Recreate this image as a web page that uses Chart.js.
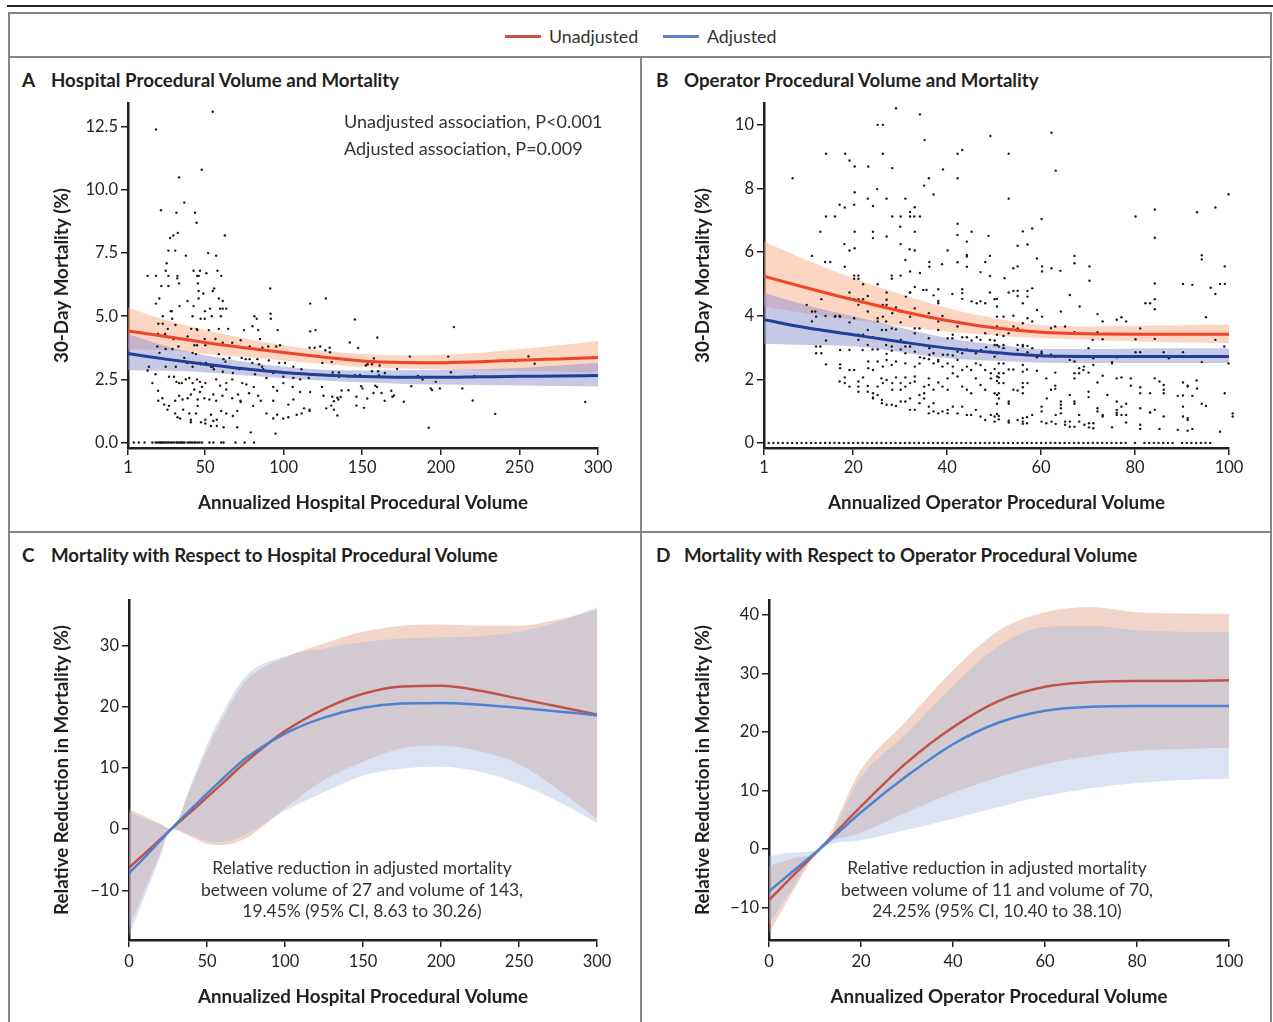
<!DOCTYPE html>
<html>
<head>
<meta charset="utf-8">
<script src="https://cdn.jsdelivr.net/npm/chart.js@4.4.1/dist/chart.umd.min.js"></script>
<style>
  body { margin: 0; background: #fff; font-family: Lato, 'Open Sans', sans-serif; color: #231f20; }
  #page { position: relative; width: 1273px; height: 1022px; overflow: hidden; }
  .rule { position: absolute; background: #231f20; }
  .frame { position: absolute; background: #858585; }
  .t { position: absolute; white-space: nowrap; line-height: 20px; }
  .letter { font-size: 19px; font-weight: 700; }
  .ptitle { font-size: 18.7px; font-weight: 700; }
  .note { font-size: 18px; color: #333; }
  .cnote { font-size: 17.4px; color: #333; text-align: center; line-height: 21.5px; }
  .leg { font-size: 17.8px; color: #333; }
  .swatch { position: absolute; height: 3px; }
  .holder { position: absolute; }
</style>
</head>
<body>
<div id="page">
  <div class="rule" style="left:7px;top:5px;width:1266px;height:2px"></div>
  <div class="frame" style="left:8px;top:12px;width:1264px;height:2px"></div>
  <div class="frame" style="left:8px;top:12px;width:2px;height:1010px"></div>
  <div class="frame" style="left:1270px;top:12px;width:2px;height:1010px"></div>
  <div class="frame" style="left:8px;top:56px;width:1264px;height:2px"></div>
  <div class="frame" style="left:640px;top:56px;width:2px;height:966px"></div>
  <div class="frame" style="left:8px;top:531px;width:1264px;height:2px"></div>

  <!-- legend -->
  <div class="swatch" style="left:505px;top:35px;width:36px;background:#c8503c"></div>
  <div class="t leg" style="left:549px;top:26px">Unadjusted</div>
  <div class="swatch" style="left:663px;top:35px;width:36px;background:#5a84c6"></div>
  <div class="t leg" style="left:707px;top:26px">Adjusted</div>

  <!-- panel titles -->
  <div class="t letter" style="left:22px;top:70px">A</div>
  <div class="t ptitle" style="left:51px;top:70px">Hospital Procedural Volume and Mortality</div>
  <div class="t letter" style="left:656px;top:70px">B</div>
  <div class="t ptitle" style="left:684px;top:70px">Operator Procedural Volume and Mortality</div>
  <div class="t letter" style="left:22px;top:545px">C</div>
  <div class="t ptitle" style="left:51px;top:545px">Mortality with Respect to Hospital Procedural Volume</div>
  <div class="t letter" style="left:656px;top:545px">D</div>
  <div class="t ptitle" style="left:684px;top:545px">Mortality with Respect to Operator Procedural Volume</div>

  <div class="holder" style="left:10px;top:90px"><canvas id="chartA" width="630" height="435"></canvas></div>
  <div class="holder" style="left:650px;top:90px"><canvas id="chartB" width="615" height="435"></canvas></div>
  <div class="holder" style="left:10px;top:570px"><canvas id="chartC" width="630" height="445"></canvas></div>
  <div class="holder" style="left:650px;top:570px"><canvas id="chartD" width="615" height="445"></canvas></div>

  <div class="t note" style="left:344px;top:111px">Unadjusted association, P&lt;0.001</div>
  <div class="t note" style="left:344px;top:138px">Adjusted association, P=0.009</div>

  <div class="t cnote" style="left:162px;top:857px;width:400px">Relative reduction in adjusted mortality<br>between volume of 27 and volume of 143,<br>19.45% (95% CI, 8.63 to 30.26)</div>
  <div class="t cnote" style="left:797px;top:857px;width:400px">Relative reduction in adjusted mortality<br>between volume of 11 and volume of 70,<br>24.25% (95% CI, 10.40 to 38.10)</div>
</div>

<script>
// ---------- Panel A: hospital volume vs 30-day mortality ----------
const aFitX = [1, 25, 50, 75, 100, 125, 150, 175, 200, 225, 250, 275, 300];
const aUnadj   = [4.42, 4.20, 3.96, 3.75, 3.56, 3.38, 3.23, 3.17, 3.16, 3.20, 3.26, 3.31, 3.36];
const aUnadjHi = [5.35, 4.85, 4.45, 4.12, 3.85, 3.63, 3.50, 3.45, 3.47, 3.55, 3.70, 3.85, 4.02];
const aUnadjLo = [3.68, 3.65, 3.50, 3.38, 3.25, 3.11, 2.98, 2.93, 2.90, 2.87, 2.84, 2.81, 2.77];
const aAdj     = [3.52, 3.30, 3.10, 2.92, 2.77, 2.67, 2.61, 2.58, 2.58, 2.60, 2.62, 2.63, 2.65];
const aAdjHi   = [4.30, 3.82, 3.45, 3.20, 3.00, 2.88, 2.85, 2.86, 2.88, 2.90, 2.95, 3.05, 3.16];
const aAdjLo   = [2.86, 2.84, 2.78, 2.66, 2.54, 2.45, 2.38, 2.33, 2.30, 2.28, 2.26, 2.24, 2.22];
const aXTicks = [1, 50, 100, 150, 200, 250, 300];
const aYTicks = [0, 2.5, 5, 7.5, 10, 12.5];

const aPoints = [
  [54.9,13.1],[18.8,12.4],[47.9,10.8],[33.5,10.5],[36.8,9.5],[22,9.2],[31.8,9.1],[43.6,9.1],[44.7,8.7],[62.6,8.2],
  [32.7,8.3],[29.9,8.2],[27.8,8.1],[26.7,7.6],[31,7.6],[37.8,7.4],[52,7.5],[57.1,7.4],[25.6,7.1],[25,6.8],
  [42.7,6.8],[46.8,6.8],[13.5,6.6],[18.8,6.6],[32.5,6.6],[26.7,6.6],[45,6.6],[46,6.6],[50.9,6.7],[57.9,6.8],
  [60.3,6.6],[32.3,6.5],[22.2,6.2],[26.7,6.2],[33.5,6.3],[45.5,6.3],[55.8,6.1],[54.9,6.0],[48.9,5.9],[45.9,6.0],
  [91.5,6.1],[20.9,5.7],[18.8,5.5],[38.9,5.6],[45.9,5.7],[58.8,5.7],[61.3,5.6],[116.9,5.5],[126.9,5.7],
  [28.2,5.2],[28.8,5.2],[33.8,5.4],[42.7,5.4],[50,5.2],[53.2,5.3],[59.6,5.3],[61.3,5.3],[63.5,5.3],
  [23.1,5.0],[29.1,4.9],[42.1,5.0],[47.2,4.9],[49.8,4.9],[54.3,5.0],[60.1,5.0],[91.7,5.1],[91.9,4.9],[81.4,5.0],[82.9,4.9],
  [20.3,4.7],[23.1,4.7],[26.3,4.5],[31.2,4.65],[41.2,4.5],[44.7,4.5],[45.1,4.45],[52.4,4.45],[58.8,4.5],[64.7,4.5],
  [74.8,4.45],[80.1,4.6],[83.8,4.45],[85,4.1],[96.2,4.45],[116.9,4.4],[120.3,4.45],
  [20.1,4.3],[24.6,4.3],[29.9,4.1],[33.5,4.1],[38.9,4.2],[43.2,3.85],[44.9,3.85],[49.8,4.1],[50.2,3.85],[56.6,4.1],
  [61.3,3.95],[67.3,3.95],[72.7,4.05],[78.4,3.8],[86.5,3.75],[90.2,3.8],[95.3,3.8],[97.7,3.85],[116.5,3.75],[119.7,3.75],
  [123.3,3.8],[126.5,3.65],
  [19.7,3.8],[21,3.55],[25,3.7],[29.3,3.7],[33.1,3.8],[36.8,3.35],[42.1,3.55],[44.2,3.5],[46.8,3.15],[50.6,3.15],
  [54.9,3.0],[58.8,3.5],[61.8,3.3],[63,3.2],[65.6,3.35],[73.3,3.35],[75.9,3.3],[78.4,3.3],[80.1,3.15],[83.3,3.3],
  [84.4,3.1],[86.3,3.0],[90.6,3.25],[97.2,3.15],[100.9,3.15],[106.2,3.0],[111.3,2.9],[124.6,3.15],
  [14.3,3.0],[13.5,2.85],[25,3.0],[31.4,3.0],[38.5,3.15],[42.1,3.0],[47.4,3.1],[53.8,3.0],[55.6,2.9],[61.3,2.8],
  [67.7,2.75],[72,2.9],[78.4,2.9],[81.8,2.7],[87,2.9],[93.4,2.75],[99.8,2.6],[106.2,2.55],[110.5,2.5],[116,2.55],
  [18.6,2.7],[16.5,2.35],[27.1,2.6],[30.3,2.6],[31.8,2.4],[33.5,2.35],[35.3,2.35],[37.8,2.5],[40,2.55],[42.1,2.35],
  [44.9,2.5],[46.8,2.4],[48.1,2.2],[50.2,2.35],[57.1,2.5],[59.6,2.25],[63.5,2.35],[67.3,2.5],[73.7,2.35],[76.3,2.3],
  [81,2.2],[89.1,2.55],[93.4,2.2],[99.8,2.35],[105.8,2.2],[110.5,2.0],[116.9,2.0],[124.4,2.2],
  [20.1,2.05],[22.9,1.75],[20.3,1.65],[24,1.5],[26.1,1.3],[27.1,1.45],[31,1.65],[33.5,1.85],[35.7,1.7],[38.9,1.75],
  [41,1.9],[43.2,2.1],[45.3,1.7],[46.8,2.0],[49.6,1.75],[52.8,1.7],[55.3,1.9],[57.1,1.65],[61.1,1.85],[63.5,2.1],
  [67.3,1.75],[71,1.9],[72.5,1.65],[78,1.95],[83.8,1.85],[85.5,1.65],[93.4,1.65],[95.9,2.05],[103,1.5],[106.2,1.7],
  [113,1.35],[116.5,1.3],[127.1,1.35],[125.4,1.85],
  [31,1.15],[32.5,1.0],[34.2,0.95],[36.1,1.3],[40,1.15],[41,0.9],[44.2,1.15],[45.3,1.45],[50.2,0.9],[53.8,1.1],
  [55.3,0.85],[57.5,0.9],[60.3,1.25],[63.5,1.15],[67.7,1.05],[70.5,1.25],[72.7,1.6],[80.6,1.45],[89.1,1.15],[93.4,0.95],
  [95.9,1.1],[99.8,0.95],[103,1.0],[108.3,1.1],[111.5,1.15],[116.5,1.25],
  [41,0.8],[47.4,0.8],[50.2,0.75],[53.8,0.65],[57.5,0.65],[61.8,0.6],[70.5,0.6],[79.1,0.4],[94.9,0.35],
  [145.3,4.87],[208.3,4.57],[142.1,3.96],[159.6,4.16],[147.4,3.74],[129.3,3.75],[129.5,3.57],[130.6,3.19],[157.4,3.33],
  [153.4,3.1],[152.3,3.05],[156.2,3.1],[161.1,3.05],[172.2,2.91],[180.3,3.4],[204.7,3.4],[247.4,3.22],[255.8,3.41],
  [259.7,3.12],[131.2,2.77],[135.2,2.77],[141.2,2.62],[145.3,2.66],[148.6,2.67],[156.2,2.82],[160.1,2.82],[164.4,2.75],
  [160.7,2.66],[185.4,2.63],[188.4,2.49],[196.8,2.4],[206.4,2.78],[221.3,2.63],[233.5,2.6],[135.2,2.6],[149.3,2.23],
  [150.2,2.14],[158.3,2.25],[159.4,2.2],[181.2,2.23],[193.6,2.14],[194.4,2.08],[199.4,2.14],[213.7,2.14],[136.9,2.06],
  [141.2,2.07],[146.3,1.81],[153.2,1.74],[157.2,1.96],[162.3,1.96],[164.3,1.65],[168.5,2.05],[169.2,1.81],[170.2,1.86],
  [176.4,1.61],[146.3,1.46],[151.1,1.37],[220.3,1.66],[234.6,1.13],[192.3,0.58],[291.9,1.6],
  [130.9,1.81],[134.2,1.77],[136.3,1.8],[134.8,1.7],[132,1.63],[130.3,1.46],[132,1.3],[134.2,1.07]
];
const aZeroX = [4.7, 7.9, 11.5, 16.5, 18.6, 19.5, 20.7, 21.5, 22.2, 23, 24, 25, 26.1, 27, 28.2, 29, 30.3, 31.8,
  32.5, 33.5, 34.5, 35.3, 36, 37, 38.9, 40, 41, 42, 43.2, 44, 45.3, 46.5, 48.1, 52.8, 55.3, 60.3, 61.8, 69.4, 75.2, 81.2];

// ---------- Panel B: operator volume vs 30-day mortality ----------
const bFitX = [1, 10, 20, 30, 40, 50, 60, 70, 80, 90, 100];
const bUnadj   = [5.24, 4.88, 4.50, 4.15, 3.85, 3.62, 3.48, 3.43, 3.42, 3.42, 3.42];
const bUnadjHi = [6.33, 5.75, 5.18, 4.68, 4.24, 3.92, 3.70, 3.66, 3.68, 3.70, 3.72];
const bUnadjLo = [4.29, 4.07, 3.87, 3.67, 3.50, 3.38, 3.30, 3.24, 3.19, 3.16, 3.14];
const bAdj     = [3.87, 3.62, 3.40, 3.18, 2.98, 2.84, 2.74, 2.72, 2.72, 2.72, 2.72];
const bAdjHi   = [4.71, 4.33, 3.98, 3.63, 3.30, 3.10, 2.95, 2.95, 2.97, 2.98, 2.98];
const bAdjLo   = [3.12, 3.08, 3.04, 2.86, 2.66, 2.58, 2.52, 2.51, 2.51, 2.51, 2.51];
const bXTicks = [1, 20, 40, 60, 80, 100];
const bYTicks = [0, 2, 4, 6, 8, 10];

const bPoints = [
  [29.1,10.52],[34.2,10.33],[25.2,10.0],[26.3,10.0],[49.2,9.65],[35.2,9.52],[43.2,9.21],[42.2,9.09],[14.2,9.09],[18.3,9.09],
  [26.3,9.09],[19.2,8.88],[20.3,8.69],[23.2,8.69],[28.3,8.64],[7.1,8.32],[39.1,8.6],[36.1,8.32],[42.2,8.32],[35.1,8.09],
  [37.1,7.81],[20.3,7.88],[25.1,7.98],[23.1,7.68],[27.1,7.68],[31.1,7.68],[17.1,7.49],[18.2,7.4],[20.2,7.49],[24.2,7.45],
  [33.1,7.41],[32.1,7.26],[33.0,7.12],[14.2,7.12],[16.1,7.12],[28.3,7.12],[30.1,7.12],[32.1,7.12],[34.2,7.12],[42.2,6.89],
  [30.0,6.8],[42.2,6.54],[45.2,6.64],[48.8,6.51],[13.0,6.64],[20.3,6.64],[24.2,6.64],[24.2,6.44],[27.1,6.49],[33.1,6.64],
  [44.2,6.33],[18.1,6.25],[19.2,6.05],[20.3,6.12],[30.1,6.25],[32.0,6.09],[33.1,6.05],[40.1,6.05],[44.2,5.91],[44.2,5.86],
  [49.1,5.88],[11.2,5.88],[31.1,5.75],[14.0,5.69],[15.1,5.69],[18.2,5.54],[36.2,5.69],[36.2,5.54],[38.9,5.62],[42.2,5.68],
  [44.2,5.54],[48.1,5.69],[47.1,5.37],[49.1,5.25],[34.2,5.34],[32.1,5.39],[20.2,5.26],[21.1,5.26],[20.2,5.16],[21.1,5.16],
  [28.2,5.26],[30.1,5.26],[28.2,5.16],[22.1,4.99],[25.2,4.99],[33.1,4.9],[32.1,4.73],
  [10.1,4.34],[11.2,4.13],[11.9,4.13],[11.2,3.82],[12.1,3.97],[13.2,4.52],[14.1,3.99],[16.2,3.99],[17.1,3.99],
  [19.2,4.73],[19.2,4.55],[20.2,4.52],[21.1,4.52],[21.1,4.34],[22.1,4.52],[23.1,4.62],[23.1,4.13],[25.2,3.92],[26.3,3.97],
  [27.1,4.73],[27.1,4.5],[26.3,4.34],[27.1,4.34],[28.3,4.08],[29.1,4.26],[30.1,4.13],[31.2,4.6],[32.1,4.73],[33.1,4.23],
  [34.9,4.81],[35.6,4.81],[37.1,4.64],[38.1,4.46],[38.1,4.39],[38.1,4.83],[41.1,4.68],[43.2,4.83],[43.2,4.71],[43.2,4.53],
  [45.2,4.45],[46.3,4.39],[47.1,4.45],[48.1,4.39],[49.1,4.73],[50.1,4.52],
  [16.1,3.97],[17.2,3.97],[19.2,3.79],[20.2,3.92],[21.1,3.40],[21.1,3.24],[22.1,3.40],[23.1,3.55],[24.1,2.94],[25.2,3.82],
  [26.1,3.55],[27,3.82],[27,3.55],[27,3.08],[28.2,3.6],[28.2,3.03],[29.1,3.57],[30.1,3.79],[30.1,3.24],[31.1,3.03],
  [32.1,3.97],[33.1,3.6],[33.1,3.45],[34.1,3.6],[35.1,3.08],[36.1,4.08],[36.1,3.29],[37.1,3.03],[38.1,3.82],[38.1,3.55],
  [39.0,3.99],[40.1,3.29],[41.1,3.29],[41.2,3.4],[42.2,3.66],[43.2,3.32],[44.2,3.32],[45.2,3.22],[46.3,3.32],[47.1,3.24],
  [48.1,3.45],[49.1,3.24],[50.1,3.22],[50.1,3.08],
  [12.1,3.03],[13,3.03],[12.1,2.82],[13.2,2.82],[14.2,3.22],[17.2,2.92],[19.2,2.92],[22,2.92],[23.1,3.08],[24.2,3.32],
  [25.2,2.94],[27.1,2.8],[28.2,2.9],[30.1,2.94],[31.1,2.82],[32.1,3.03],[33.1,2.87],[34.2,2.69],[35.1,2.66],[36.2,2.98],
  [36.2,2.77],[37.1,2.82],[38.1,2.61],[39.1,2.77],[40.1,2.77],[41.2,2.75],[42.2,2.87],[43.2,2.82],[44.2,2.94],[46.1,2.82],
  [47.2,2.92],[48.3,3.01],[49.2,2.87],[50.1,2.71],
  [14.2,2.47],[17.2,2.47],[17.2,2.35],[19.2,2.29],[20.2,2.29],[23.2,2.56],[23.2,2.35],[24.2,2.29],[25.2,2.56],[26.3,2.4],
  [27.1,2.61],[28.2,2.45],[29.1,2.56],[31.1,2.5],[33.1,2.4],[34.1,2.5],[36.1,2.63],[37.1,2.5],[38.1,2.56],[39.0,2.4],
  [40.1,2.5],[41.2,2.4],[42.2,2.61],[43.2,2.29],[44.2,2.4],[45.1,2.29],[46.1,2.5],[47.1,2.45],[48.1,2.29],[49.3,2.19],[50.1,2.32],
  [17.1,1.93],[18.2,2.06],[18.2,1.88],[19.2,1.77],[21.1,1.93],[21.1,1.77],[21.1,1.61],[22.1,2.06],[23.1,1.79],[23.1,1.61],
  [24.2,1.56],[24.2,1.43],[25.2,1.77],[26,2.03],[26.3,1.88],[27.1,1.98],[28.3,1.88],[28.3,1.67],[29.1,2.06],[30.1,1.88],
  [30.1,1.67],[31.1,2.06],[31.1,1.77],[32.1,1.88],[33.1,2.09],[33.1,1.93],[34.1,1.51],[35.1,1.77],[35.1,1.56],[36.1,2.03],
  [36.1,1.82],[37.1,1.67],[38.1,1.9],[39,1.77],[40.1,2.03],[40.1,1.67],[41.2,2.19],[42.2,2.09],[43.2,1.77],[44.2,1.67],
  [45.1,1.56],[46.1,2.03],[47.1,1.82],[48.1,1.67],[49.3,2.03],[50.1,1.56],
  [24.2,1.4],[25.2,1.51],[26.1,1.35],[26.1,1.25],[27.1,1.2],[28.2,1.2],[29.1,1.16],[30.1,1.3],[31.1,1.3],[32.1,1.4],
  [32.1,1.04],[33.1,1.04],[34.1,1.25],[35.1,1.4],[36.1,1.14],[36.1,0.93],[37.1,1.25],[37.1,0.99],[38.1,0.93],[39,0.99],
  [40.1,0.93],[40.1,1.04],[41.2,1.14],[42.2,0.93],[43.2,1.14],[44.2,0.88],[45.1,0.88],[46.1,1.04],[47.1,0.83],[48.1,0.72],
  [49.3,0.88],[50.1,0.83],[50.1,0.67],
  [62.2,9.75],[53.1,9.09],[63.1,8.56],[53.1,7.68],[99.9,7.82],[97.1,7.4],[93.2,7.25],[84.2,7.34],[80.1,7.12],[84.2,6.45],
  [60.1,7.04],[58.1,6.74],[56.1,6.65],[55,6.2],[57.1,6.24],[94.2,5.9],[94.2,5.77],[67.1,5.88],[67.1,5.65],[59.1,5.8],
  [60.2,5.55],[60.2,5.39],[62.2,5.49],[64.1,5.41],[54.1,5.49],[55,5.55],[70.3,5.55],[70.3,5.1],[99.1,5.55],[52.2,5.18],
  [84.2,5.01],[90.2,5.0],[92.2,4.97],[96.1,4.88],[97.1,4.68],[98.1,5.0],[99.1,5.0],
  [53.1,4.73],[54.1,4.78],[55,4.78],[55,4.62],[57.1,4.78],[57.1,4.6],[58.1,4.86],[56.1,4.39],[66.1,4.65],[82.2,4.39],
  [83.2,4.39],[84.2,4.52],[84.2,4.2],[68.2,4.29],[50.6,4.53],[50.6,4.29],[64.2,4.13],[95.1,3.95],
  [50.6,3.97],[52,3.97],[54.1,4.0],[57.1,3.92],[59.1,4.18],[60.2,3.97],[58.1,3.82],[77.1,3.95],[76.1,3.87],[78.1,3.82],
  [72,4.05],[73.1,3.82],[63,3.66],[65.1,3.66],[62.1,3.61],[56.1,3.76],[54.1,3.66],[50.6,3.66],[52,3.36],[53.1,3.45],
  [50.6,3.4],[55,3.6],[81.1,3.6],[80.1,3.26],[84.2,3.27],[72,3.48],[71,3.24],[73.1,3.26],[67.1,3.48],[97.1,3.24],
  [50.6,3.08],[51,3.03],[52,3.08],[52,2.98],[55,3.08],[55,2.92],[56.1,3.08],[56.1,3.03],[57.1,3.05],[57.1,2.85],
  [58.1,2.98],[60.1,2.87],[60.1,2.82],[59.1,2.69],[62.1,2.77],[63,2.71],[66.1,2.61],[67.1,2.71],[70.1,2.98],[71.1,2.66],
  [75.1,2.5],[76.1,2.69],[80.1,2.85],[81.1,2.85],[86.1,2.85],[90.2,2.85],[94.2,2.54],[99.9,2.5],[99,3.03],[87.2,2.66],
  [89.1,2.73],[50.6,2.82],[52,2.82],
  [51,2.5],[52,2.5],[53.1,2.31],[52,2.19],[51,2.19],[50.6,2.09],[51,2.06],[54.1,2.31],[56.1,2.45],[56.1,2.24],
  [57,2.31],[59.1,2.27],[61.1,2.03],[63,2.21],[67.1,2.56],[68.1,2.35],[68.1,2.19],[69,2.29],[70.1,2.21],[67.1,2.19],
  [67.1,2.03],[69.1,2.4],[71.1,2.45],[72,1.9],[73.1,2.11],[75.1,2.54],[76.1,2.03],[77.1,2.06],[79.1,2.03],[84.2,2.03],
  [85.2,1.93],[86.1,1.82],[90.2,1.9],[91.2,1.77],[93.1,1.96],[93.2,1.71],[99.1,1.56],[100.8,0.83],[100.8,0.93],
  [50.6,1.95],[51,1.88],[52,1.88],[54.1,1.67],[56.1,1.88],[56.1,1.75],[56.1,1.56],[57.1,1.88],[55,1.65],[51,1.56],
  [50.6,1.51],[53.1,1.3],[53.1,1.23],[51,1.4],[50.6,1.23],[61.2,1.4],[63,1.8],[63,1.7],[62.1,1.67],[60.1,1.14],
  [60.1,0.99],[64.2,1.3],[64.2,1.2],[64.2,1.09],[66.1,1.51],[67.1,1.3],[67.1,1.23],[70.1,1.61],[70.1,1.44],[72,1.09],
  [72,0.99],[74.1,1.51],[76.1,1.3],[76.1,1.04],[77.1,1.14],[78.1,1.23],[79.1,1.8],[81.1,1.75],[81.1,1.56],[81.1,1.09],
  [83.2,1.56],[83.2,0.96],[84.2,1.04],[86.1,1.67],[86.1,1.56],[89.1,1.48],[90.2,1.49],[90.2,1.14],[91.2,1.8],[92.2,1.48],
  [94.2,1.23],[95.1,1.16],
  [50.6,0.91],[51,0.85],[51,0.74],[53.1,0.7],[53.1,0.64],[55,0.72],[56.1,0.78],[56.1,0.67],[56.1,0.6],[57,0.81],
  [57,0.62],[58.1,0.88],[60.1,0.67],[61.1,0.62],[62.2,0.67],[63.1,0.88],[63.1,0.6],[64.2,0.93],[65.1,0.67],[65.1,0.57],
  [66.1,0.67],[66.1,0.51],[67.1,0.51],[68.1,0.88],[68.1,0.67],[69.2,0.57],[70.2,0.62],[70.2,0.49],[71.1,0.62],[71.1,0.46],
  [73.1,0.88],[73.1,0.83],[75.1,0.49],[76.1,0.95],[76.1,0.88],[77.1,0.88],[78.1,0.88],[78.1,0.64],[81.1,0.57],[81.1,0.44],
  [83.2,0.96],[85.2,0.44],[86.1,0.83],[89.1,0.41],[90.2,0.83],[91.2,0.78],[91.2,0.72],[91.2,0.38],[92.2,0.44],[98.1,0.35]
];
const bZeroX = [1, 2, 3, 4, 5, 6, 7, 8, 9, 10, 11, 12, 13, 14, 15, 16, 17, 18, 19, 20, 21, 22, 23, 24, 25, 26, 27, 28,
  29, 30, 31, 32, 33, 34, 35, 36, 37, 38, 39, 40, 41, 42, 43, 44, 45, 46, 47, 48, 49, 50, 51, 52, 53, 54, 55, 56,
  57, 58, 59, 60, 61, 62, 63, 64, 65, 66, 67, 68, 69, 70, 71, 72, 73, 74, 75, 76, 77, 78, 80, 82, 83, 84, 85, 86,
  87, 88, 90, 91, 92, 93, 94, 95, 96];

// ---------- Panel C: relative reduction, hospital volume ----------
const cFitX = [0, 10, 20, 27, 40, 50, 60, 75, 100, 125, 150, 175, 200, 225, 250, 275, 300];
const cUnadj   = [-6.3, -4.0, -1.7, 0, 2.9, 5.2, 7.5, 11.0, 16.0, 19.6, 22.1, 23.3, 23.4, 22.6, 21.3, 20.0, 18.7];
const cUnadjHi = [3.3, 2.1, 0.9, 0, 7.0, 13.0, 18.0, 24.2, 28.0, 30.3, 32.2, 33.2, 33.4, 33.2, 33.2, 34.2, 35.8];
const cUnadjLo = [-16.0, -10.0, -4.0, 0, -1.3, -2.4, -2.6, -1.5, 3.4, 8.0, 11.0, 13.2, 13.6, 12.7, 10.6, 6.5, 1.6];
const cAdj     = [-7.2, -4.6, -1.9, 0, 3.3, 5.8, 8.2, 11.6, 15.6, 18.2, 19.8, 20.5, 20.6, 20.3, 19.8, 19.2, 18.6];
const cAdjHi   = [2.8, 1.8, 0.7, 0, 7.5, 13.8, 19.0, 25.0, 28.2, 29.5, 30.5, 31.1, 31.3, 31.5, 32.2, 33.8, 36.2];
const cAdjLo   = [-17.5, -11.0, -4.5, 0, -1.0, -2.0, -2.1, -0.8, 3.0, 6.0, 8.7, 9.9, 10.2, 9.4, 7.4, 4.5, 1.0];
const cXTicks = [0, 50, 100, 150, 200, 250, 300];
const cYTicks = [-10, 0, 10, 20, 30];

// ---------- Panel D: relative reduction, operator volume ----------
const dFitX = [0, 5, 11, 20, 30, 40, 50, 60, 70, 80, 90, 100];
const dUnadj   = [-8.7, -4.7, 0, 7.3, 14.8, 20.8, 25.3, 27.7, 28.5, 28.7, 28.7, 28.8];
const dUnadjHi = [-2.9, -1.6, 0, 13.6, 22.0, 30.5, 37.3, 40.4, 41.3, 40.4, 40.2, 40.1];
const dUnadjLo = [-14.3, -7.5, 0, 2.8, 6.3, 9.6, 12.3, 14.5, 15.9, 16.8, 17.1, 17.3];
const dAdj     = [-7.2, -3.9, 0, 6.3, 12.5, 17.9, 21.6, 23.6, 24.3, 24.4, 24.4, 24.4];
const dAdjHi   = [-1.2, -0.6, 0, 12.3, 19.8, 27.9, 34.7, 37.9, 38.1, 37.3, 37.1, 37.0];
const dAdjLo   = [-12.8, -6.8, 0, 1.5, 3.3, 5.2, 7.2, 9.1, 10.4, 11.3, 11.8, 12.0];
const dXTicks = [0, 20, 40, 60, 80, 100];
const dYTicks = [-10, 0, 10, 20, 30, 40];

const ink = '#231f20';
const tickFont = { family: 'Lato', size: 16.5 };
const titleFont = { family: 'Lato', size: 18.8, weight: 'bold' };

function xy(xs, ys) {
  return xs.map((x, i) => ({ x: x, y: ys[i] }));
}

function axis(opts) {
  return {
    type: 'linear',
    min: opts.min,
    max: opts.max,
    grid: { display: true, drawOnChartArea: false, drawTicks: true, tickLength: 7, color: ink, lineWidth: 1.5 },
    border: { display: true, color: ink, width: 2.5 },
    ticks: {
      color: ink,
      font: tickFont,
      padding: opts.tickPad,
      maxRotation: 0,
      autoSkip: false,
      callback: opts.fmt
    },
    title: { display: true, text: opts.title, color: ink, font: titleFont, padding: opts.titlePad },
    afterBuildTicks: (scale) => { scale.ticks = opts.ticks.map(v => ({ value: v })); },
    afterFit: (scale) => {
      if (opts.width) scale.width = opts.width;
      if (opts.height) scale.height = opts.height;
    }
  };
}

function buildPanel(id, p) {
  const datasets = [
    { data: xy(p.fitX, p.unadjHi), borderWidth: 0, pointRadius: 0, fill: '+1', backgroundColor: p.redBand, cubicInterpolationMode: 'monotone', order: 6 },
    { data: xy(p.fitX, p.unadjLo), borderWidth: 0, pointRadius: 0, fill: false, cubicInterpolationMode: 'monotone', order: 7 },
    { data: xy(p.fitX, p.adjHi), borderWidth: 0, pointRadius: 0, fill: '+1', backgroundColor: p.blueBand, cubicInterpolationMode: 'monotone', order: 4 },
    { data: xy(p.fitX, p.adjLo), borderWidth: 0, pointRadius: 0, fill: false, cubicInterpolationMode: 'monotone', order: 5 },
    { data: xy(p.fitX, p.unadj), borderColor: p.redLine, borderWidth: p.lineW, pointRadius: 0, fill: false, cubicInterpolationMode: 'monotone', order: 1 },
    { data: xy(p.fitX, p.adj), borderColor: p.blueLine, borderWidth: p.lineW, pointRadius: 0, fill: false, cubicInterpolationMode: 'monotone', order: 0 }
  ];
  if (p.points) {
    datasets.push({
      data: p.points.map(d => ({ x: d[0], y: d[1] })).concat(p.zeros.map(x => ({ x: x, y: 0 }))),
      showLine: false, pointRadius: 1.2, pointBackgroundColor: '#1a1a1a', pointBorderWidth: 0,
      clip: false, order: 2
    });
  }
  return new Chart(document.getElementById(id), {
    type: 'line',
    data: { datasets: datasets },
    options: {
      responsive: false,
      animation: false,
      events: [],
      layout: { padding: { left: 0, right: p.padRight, top: p.padTop, bottom: 0 } },
      plugins: { legend: { display: false }, tooltip: { enabled: false } },
      scales: { x: p.x, y: p.y }
    }
  });
}

const fmtPlain = v => (v < 0 ? '\u2212' + Math.abs(v) : String(v));

// A
buildPanel('chartA', {
  fitX: aFitX, unadj: aUnadj, unadjHi: aUnadjHi, unadjLo: aUnadjLo, adj: aAdj, adjHi: aAdjHi, adjLo: aAdjLo,
  points: aPoints, zeros: aZeroX,
  redLine: '#ee4428', blueLine: '#1f3d99', lineW: 3,
  redBand: 'rgba(249,162,122,0.45)', blueBand: 'rgba(141,147,203,0.5)',
  padRight: 42, padTop: 0,
  x: axis({ min: 1, max: 300, ticks: aXTicks, fmt: fmtPlain, tickPad: 3, title: 'Annualized Hospital Procedural Volume', titlePad: 11, height: 77 }),
  y: axis({ min: -0.22, max: 13.45, ticks: aYTicks, fmt: v => v.toFixed(1), tickPad: 3, title: '30-Day Mortality (%)', titlePad: 41, width: 118 })
});

// B
buildPanel('chartB', {
  fitX: bFitX, unadj: bUnadj, unadjHi: bUnadjHi, unadjLo: bUnadjLo, adj: bAdj, adjHi: bAdjHi, adjLo: bAdjLo,
  points: bPoints, zeros: bZeroX,
  redLine: '#ee4428', blueLine: '#1f3d99', lineW: 3,
  redBand: 'rgba(249,162,122,0.45)', blueBand: 'rgba(141,147,203,0.5)',
  padRight: 36, padTop: 0,
  x: axis({ min: 1, max: 100, ticks: bXTicks, fmt: fmtPlain, tickPad: 3, title: 'Annualized Operator Procedural Volume', titlePad: 11, height: 77 }),
  y: axis({ min: -0.16, max: 10.69, ticks: bYTicks, fmt: fmtPlain, tickPad: 3, title: '30-Day Mortality (%)', titlePad: 42, width: 114 })
});

// C
buildPanel('chartC', {
  fitX: cFitX, unadj: cUnadj, unadjHi: cUnadjHi, unadjLo: cUnadjLo, adj: cAdj, adjHi: cAdjHi, adjLo: cAdjLo,
  redLine: '#c0524a', blueLine: '#4c82d2', lineW: 2.5,
  redBand: 'rgba(222,150,117,0.4)', blueBand: 'rgba(165,182,222,0.4)',
  padRight: 43, padTop: 30,
  x: axis({ min: 0, max: 300, ticks: cXTicks, fmt: fmtPlain, tickPad: 5, title: 'Annualized Hospital Procedural Volume', titlePad: 7, height: 75 }),
  y: axis({ min: -18.1, max: 37.4, ticks: cYTicks, fmt: fmtPlain, tickPad: 3, title: 'Relative Reduction in Mortality (%)', titlePad: 41, width: 119 })
});

// D
buildPanel('chartD', {
  fitX: dFitX, unadj: dUnadj, unadjHi: dUnadjHi, unadjLo: dUnadjLo, adj: dAdj, adjHi: dAdjHi, adjLo: dAdjLo,
  redLine: '#c0524a', blueLine: '#4c82d2', lineW: 2.5,
  redBand: 'rgba(222,150,117,0.4)', blueBand: 'rgba(165,182,222,0.4)',
  padRight: 36, padTop: 30,
  x: axis({ min: 0, max: 100, ticks: dXTicks, fmt: fmtPlain, tickPad: 5, title: 'Annualized Operator Procedural Volume', titlePad: 7, height: 75 }),
  y: axis({ min: -15.5, max: 42.5, ticks: dYTicks, fmt: fmtPlain, tickPad: 3, title: 'Relative Reduction in Mortality (%)', titlePad: 42, width: 119 })
});
</script>
</body>
</html>
